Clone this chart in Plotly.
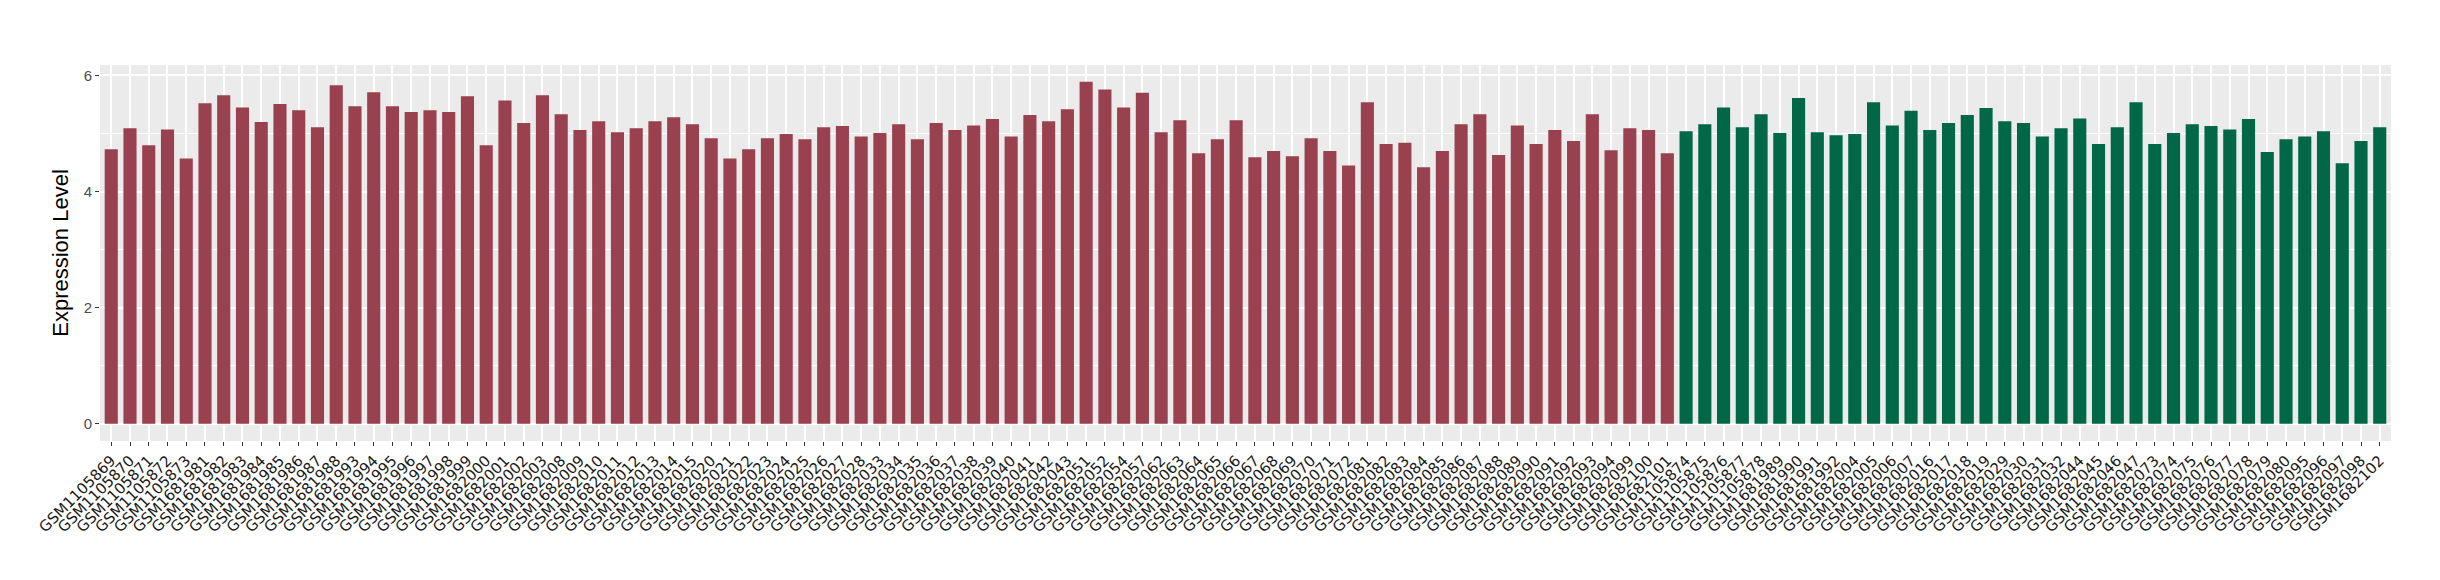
import plotly.graph_objects as go

# 그룹 1 (적색) 샘플 / 발현값
red_samples = [
    "GSM1105869", "GSM1105870", "GSM1105871", "GSM1105872", "GSM1105873",
    "GSM1681981", "GSM1681982", "GSM1681983", "GSM1681984", "GSM1681985",
    "GSM1681986", "GSM1681987", "GSM1681988", "GSM1681993", "GSM1681994",
    "GSM1681995", "GSM1681996", "GSM1681997", "GSM1681998", "GSM1681999",
    "GSM1682000", "GSM1682001", "GSM1682002", "GSM1682003", "GSM1682008",
    "GSM1682009", "GSM1682010", "GSM1682011", "GSM1682012", "GSM1682013",
    "GSM1682014", "GSM1682015", "GSM1682020", "GSM1682021", "GSM1682022",
    "GSM1682023", "GSM1682024", "GSM1682025", "GSM1682026", "GSM1682027",
    "GSM1682028", "GSM1682033", "GSM1682034", "GSM1682035", "GSM1682036",
    "GSM1682037", "GSM1682038", "GSM1682039", "GSM1682040", "GSM1682041",
    "GSM1682042", "GSM1682043", "GSM1682051", "GSM1682052", "GSM1682054",
    "GSM1682057", "GSM1682062", "GSM1682063", "GSM1682064", "GSM1682065",
    "GSM1682066", "GSM1682067", "GSM1682068", "GSM1682069", "GSM1682070",
    "GSM1682071", "GSM1682072", "GSM1682081", "GSM1682082", "GSM1682083",
    "GSM1682084", "GSM1682085", "GSM1682086", "GSM1682087", "GSM1682088",
    "GSM1682089", "GSM1682090", "GSM1682091", "GSM1682092", "GSM1682093",
    "GSM1682094", "GSM1682099", "GSM1682100", "GSM1682101",
]
red_values = [
    4.73, 5.09, 4.80, 5.07, 4.57, 5.52, 5.66, 5.45, 5.20, 5.51,
    5.40, 5.11, 5.83, 5.47, 5.71, 5.47, 5.37, 5.40, 5.37, 5.64,
    4.80, 5.57, 5.18, 5.66, 5.33, 5.06, 5.21, 5.02, 5.09, 5.21,
    5.28, 5.16, 4.92, 4.57, 4.73, 4.92, 4.99, 4.90, 5.11, 5.13,
    4.95, 5.01, 5.16, 4.90, 5.18, 5.06, 5.14, 5.25, 4.95, 5.32,
    5.21, 5.42, 5.89, 5.76, 5.45, 5.70, 5.02, 5.23, 4.66, 4.90,
    5.23, 4.59, 4.70, 4.61, 4.92, 4.70, 4.45, 5.54, 4.82, 4.84,
    4.42, 4.70, 5.16, 5.33, 4.63, 5.14, 4.82, 5.06, 4.87, 5.33,
    4.71, 5.09, 5.06, 4.66,
]

# 그룹 2 (녹색) 샘플 / 발현값
green_samples = [
    "GSM1105874", "GSM1105875", "GSM1105876", "GSM1105877", "GSM1105878",
    "GSM1681989", "GSM1681990", "GSM1681991", "GSM1681992", "GSM1682004",
    "GSM1682005", "GSM1682006", "GSM1682007", "GSM1682016", "GSM1682017",
    "GSM1682018", "GSM1682019", "GSM1682029", "GSM1682030", "GSM1682031",
    "GSM1682032", "GSM1682044", "GSM1682045", "GSM1682046", "GSM1682047",
    "GSM1682073", "GSM1682074", "GSM1682075", "GSM1682076", "GSM1682077",
    "GSM1682078", "GSM1682079", "GSM1682080", "GSM1682095", "GSM1682096",
    "GSM1682097", "GSM1682098", "GSM1682102",
]
green_values = [
    5.04, 5.16, 5.45, 5.11, 5.33, 5.01, 5.61, 5.02, 4.97, 4.99,
    5.54, 5.14, 5.39, 5.06, 5.18, 5.32, 5.44, 5.21, 5.18, 4.95,
    5.09, 5.26, 4.82, 5.11, 5.54, 4.82, 5.01, 5.16, 5.13, 5.07,
    5.25, 4.68, 4.90, 4.95, 5.04, 4.49, 4.87, 5.11,
]

y_ticks = [0, 2, 4, 6]

RED = "#9A4150"
GREEN = "#006747"

all_samples = red_samples + green_samples

fig = go.Figure()
fig.add_trace(go.Bar(x=red_samples, y=red_values, marker_color=RED,
                     marker_line_width=0, showlegend=False))
fig.add_trace(go.Bar(x=green_samples, y=green_values, marker_color=GREEN,
                     marker_line_width=0, showlegend=False))

n = len(all_samples)
fig.update_layout(
    width=2440,
    height=580,
    paper_bgcolor="white",
    plot_bgcolor="#EBEBEB",
    bargap=0.3,
    margin=dict(l=92, r=57, t=57, b=147, autoexpand=False),
    font=dict(family="Liberation Sans, Arial, sans-serif", color="black"),
)
fig.update_xaxes(
    type="category",
    categoryorder="array",
    categoryarray=all_samples,
    range=[-0.6, n - 0.4],
    tickangle=-45,
    tickfont=dict(family="DejaVu Sans, sans-serif", size=15, color="#1A1A1A"),
    ticks="outside",
    ticklen=4,
    tickcolor="#333333",
    tickwidth=1,
    showgrid=True,
    gridcolor="white",
    gridwidth=1.6,
    showline=False,
    zeroline=False,
    automargin=False,
)
fig.update_yaxes(
    range=[-0.295, 6.18],
    tickvals=y_ticks,
    ticktext=[str(v) for v in y_ticks],
    tickfont=dict(family="Liberation Sans, Arial, sans-serif", size=15, color="#4D4D4D"),
    ticks="outside",
    ticklen=4,
    tickcolor="#333333",
    tickwidth=1,
    showgrid=True,
    gridcolor="white",
    gridwidth=1.6,
    minor=dict(dtick=1, tick0=0, showgrid=True, gridcolor="white", gridwidth=0.7),
    zeroline=False,
    showline=False,
    title=dict(text="Expression Level", font=dict(size=22, color="black"), standoff=8),
    automargin=False,
)

fig.write_html("out.html")
